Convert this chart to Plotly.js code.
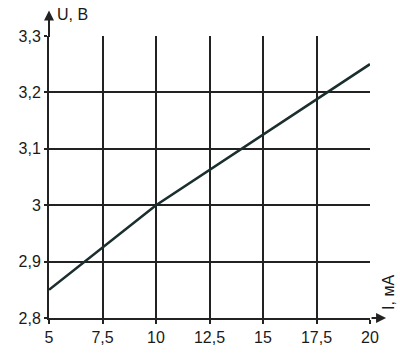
<!DOCTYPE html>
<html><head><meta charset="utf-8">
<script src="https://cdn.plot.ly/plotly-3.0.1.min.js"></script>
<style>html,body{margin:0;padding:0;background:#fff}#c{width:400px;height:357px}</style>
</head><body><div id="c"></div>
<script>
const currentMA = [5, 10, 20];
const voltageV = [2.85, 3.0, 3.25];
const xTickVals = [5, 7.5, 10, 12.5, 15, 17.5, 20];
const xTickText = ['5', '7,5', '10', '12,5', '15', '17,5', '20'];
const yTickVals = [2.8, 2.9, 3.0, 3.1, 3.2, 3.3];
const yTickText = ['2,8', '2,9', '3', '3,1', '3,2', '3,3'];

const font = {family: 'Liberation Sans, Arial, sans-serif', size: 16, color: '#1a1a1a'};
Plotly.newPlot('c', [{
  x: currentMA, y: voltageV, mode: 'lines', type: 'scatter',
  line: {color: '#1b2e2e', width: 2.6}, hoverinfo: 'skip'
}], {
  width: 400, height: 357,
  margin: {l: 49, r: 30, t: 36, b: 39},
  paper_bgcolor: '#fff', plot_bgcolor: '#fff',
  showlegend: false,
  font: font,
  xaxis: {range: [5, 20], tickvals: xTickVals, ticktext: xTickText,
    showgrid: true, gridcolor: '#222', gridwidth: 2, zeroline: false,
    showline: true, linecolor: '#222', linewidth: 2,
    ticks: 'outside', ticklen: 4, tickwidth: 2, tickcolor: '#222', tickfont: font},
  yaxis: {range: [2.8, 3.3], tickvals: yTickVals, ticktext: yTickText,
    showgrid: true, gridcolor: '#222', gridwidth: 2, zeroline: false,
    showline: true, linecolor: '#222', linewidth: 2,
    ticks: 'outside', ticklen: 3, tickwidth: 2, tickcolor: '#222', tickfont: font},
  annotations: [
    {xref: 'paper', yref: 'paper', x: 0, y: 1.09, ax: 0, ay: 28, axref: 'pixel', ayref: 'pixel',
     showarrow: true, arrowhead: 2, arrowsize: 1, arrowwidth: 2, arrowcolor: '#222', text: ''},
    {xref: 'paper', yref: 'paper', x: 1.05, y: 0, ax: -16, ay: 0,
     showarrow: true, arrowhead: 2, arrowsize: 1, arrowwidth: 2, arrowcolor: '#222', text: ''},
    {xref: 'paper', yref: 'paper', x: 0.02, y: 1.075, xanchor: 'left', yanchor: 'middle',
     showarrow: false, text: 'U, B', font: font},
    {xref: 'paper', yref: 'paper', x: 1.057, y: 0.09, xanchor: 'center', yanchor: 'middle',
     showarrow: false, text: 'I, мA', textangle: -90, font: font}
  ]
}, {staticPlot: true});
</script></body></html>
